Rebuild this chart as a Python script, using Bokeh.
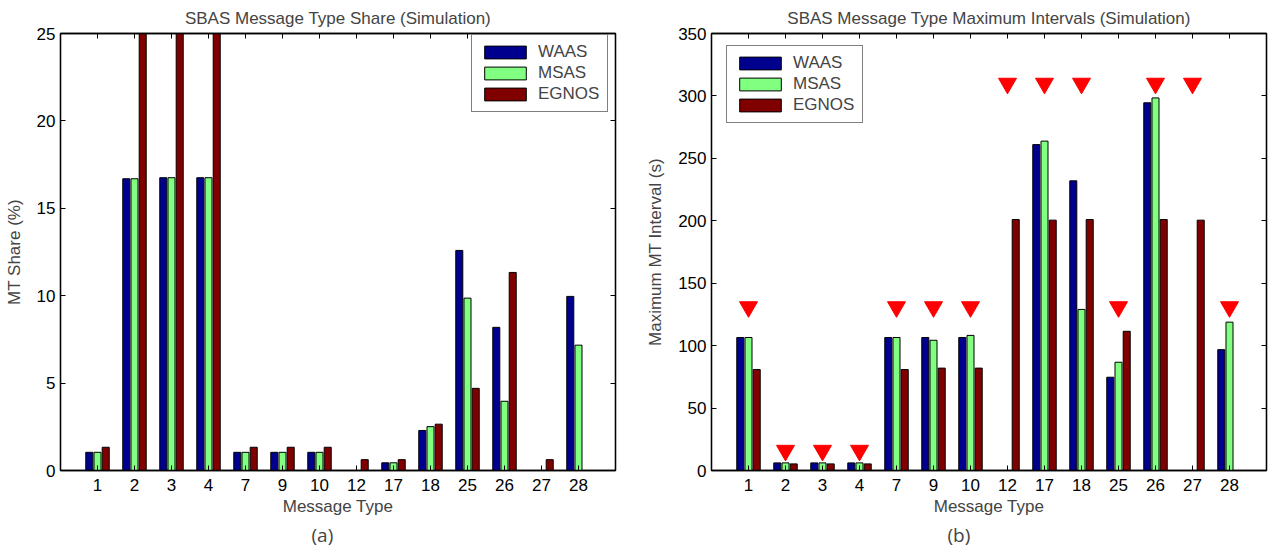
from bokeh.plotting import figure
from bokeh.models import (ColumnDataSource, Range1d, FixedTicker, LinearAxis, Legend,
                          LegendItem, Title)
from bokeh.transform import dodge
from bokeh.layouts import row
from bokeh.embed import file_html
from bokeh.resources import INLINE

# ---------------- data ----------------
msg_types = ["1", "2", "3", "4", "7", "9", "10", "12", "17", "18", "25", "26", "27", "28"]
series = ["WAAS", "MSAS", "EGNOS"]

share_waas = [1.04, 16.69, 16.75, 16.75, 1.04, 1.04, 1.04, 0.0, 0.44, 2.29, 12.59, 8.19, 0.0, 9.96]
share_msas = [1.04, 16.69, 16.75, 16.75, 1.04, 1.04, 1.04, 0.0, 0.44, 2.51, 9.86, 3.96, 0.0, 7.17]
share_egnos = [1.33, 26.5, 26.5, 26.5, 1.33, 1.33, 1.33, 0.62, 0.62, 2.65, 4.70, 11.33, 0.62, 0.0]

int_waas = [106.5, 6.1, 6.1, 6.1, 106.5, 106.5, 106.5, 0.0, 261.0, 232.0, 74.7, 294.5, 0.0, 96.8]
int_msas = [106.5, 6.1, 6.1, 6.1, 106.5, 104.3, 108.2, 0.0, 263.8, 129.0, 86.7, 298.4, 0.0, 118.8]
int_egnos = [80.9, 5.3, 5.3, 5.3, 80.9, 82.0, 82.0, 201.0, 200.5, 201.0, 111.5, 201.0, 200.5, 0.0]
limit_marker = [131, 16, 16, 16, 131, 131, 131, 310, 310, 310, 131, 310, 310, 131]

share_ticks = [0, 5, 10, 15, 20, 25]
interval_ticks = [0, 50, 100, 150, 200, 250, 300, 350]

# ---------------- style ----------------
COLORS = {"WAAS": "#00008F", "MSAS": "#80FF80", "EGNOS": "#800000"}
FONT = "Liberation Sans"
FS = "17px"
OFFS = [-0.222, 0.0, 0.222]
BAR_W = 0.19

xpos = list(range(1, len(msg_types) + 1))
xlabels = {i: t for i, t in zip(xpos, msg_types)}


def style_axis(ax, ticks, labels=True, overrides=None):
    ax.ticker = FixedTicker(ticks=ticks)
    ax.minor_tick_line_color = None
    ax.major_tick_in = 5
    ax.major_tick_out = 0
    ax.axis_line_color = "black"
    ax.axis_line_width = 1.3
    ax.major_tick_line_color = "black"
    ax.major_tick_line_width = 1
    if labels:
        ax.major_label_text_font = FONT
        ax.major_label_text_font_size = FS
        ax.major_label_text_color = "black"
        if overrides:
            ax.major_label_overrides = overrides
    else:
        ax.major_label_text_font_size = "1px"
        ax.major_label_text_color = None
        ax.major_label_standoff = 0


def make_chart(title, ylabel, ymax, yticks, vals, left_border, right_border, width,
               legend_loc, caption, caption_offset):
    p = figure(width=width, height=548, output_backend="svg", toolbar_location=None,
               x_range=Range1d(0, 15), y_range=Range1d(0, ymax),
               min_border_left=left_border, min_border_right=right_border,
               min_border_top=33, min_border_bottom=77)
    p.title.text = title
    p.title.align = "center"
    p.title.text_font = FONT
    p.title.text_font_size = FS
    p.title.text_font_style = "normal"
    p.title.standoff = 12
    p.grid.visible = False
    p.outline_line_color = "black"
    p.outline_line_width = 1.3
    p.background_fill_color = "white"
    p.border_fill_color = "white"

    style_axis(p.xaxis[0], xpos, True, xlabels)
    style_axis(p.yaxis[0], yticks, True)
    p.xaxis[0].axis_label = "Message Type"
    p.yaxis[0].axis_label = ylabel
    for ax in (p.xaxis[0], p.yaxis[0]):
        ax.axis_label_text_font = FONT
        ax.axis_label_text_font_size = FS
        ax.axis_label_text_font_style = "normal"
    p.xaxis[0].major_label_standoff = 8
    p.xaxis[0].axis_label_standoff = 3
    p.yaxis[0].major_label_standoff = 5
    p.yaxis[0].axis_label_standoff = 10

    top = LinearAxis()
    style_axis(top, xpos, False)
    p.add_layout(top, "above")
    right = LinearAxis()
    style_axis(right, yticks, False)
    p.add_layout(right, "right")

    src = ColumnDataSource(dict(x=xpos, WAAS=vals[0], MSAS=vals[1], EGNOS=vals[2]))
    items = []
    for name, off in zip(series, OFFS):
        r = p.vbar(x=dodge("x", off), top=name, width=BAR_W, bottom=0, source=src,
                   fill_color=COLORS[name], line_color="black", line_width=1)
        items.append(LegendItem(label=name, renderers=[r]))

    leg = Legend(items=items, location=legend_loc)
    leg.label_text_font = FONT
    leg.label_text_font_size = FS
    leg.glyph_width = 52
    leg.glyph_height = 16
    leg.label_height = 16
    leg.label_width = 62
    leg.spacing = 1
    leg.padding = 7
    leg.label_standoff = 7
    leg.border_line_color = "black"
    leg.border_line_width = 1.3
    leg.background_fill_alpha = 1.0
    p.add_layout(leg, "center")

    cap = Title(text=caption, align="left", offset=caption_offset,
                text_font="Open Sans", text_font_size="19px", text_font_style="normal",
                standoff=2)
    p.add_layout(cap, "below")
    return p


p1 = make_chart("SBAS Message Type Share (Simulation)", "MT Share (%)", 25, share_ticks,
                [share_waas, share_msas, share_egnos], 60, 20, 635, (411, 358), "(a)", 251)

p2 = make_chart("SBAS Message Type Maximum Intervals (Simulation)", "Maximum MT Interval (s)",
                350, interval_ticks, [int_waas, int_msas, int_egnos], 76, 5, 636, (15, 347),
                "(b)", 236)
src_m = ColumnDataSource(dict(x=xpos, y=limit_marker))
p2.scatter(x="x", y="y", source=src_m, marker="inverted_triangle", size=18,
           fill_color="#FF0000", line_color="#FF0000")

layout = row(p1, p2, spacing=0)
open("out.html", "w").write(file_html(layout, INLINE))
